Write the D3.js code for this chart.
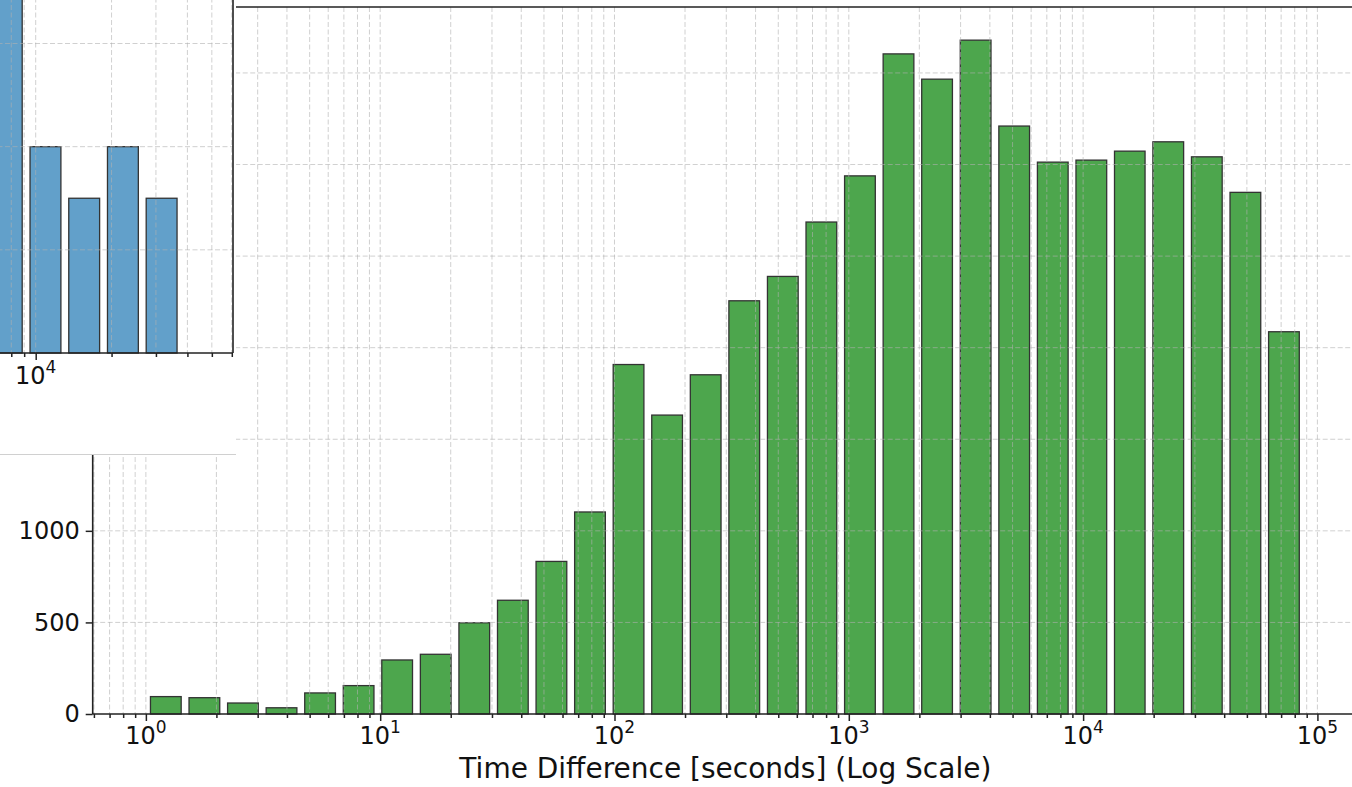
<!DOCTYPE html>
<html>
<head>
<meta charset="utf-8">
<script src="https://cdn.jsdelivr.net/npm/d3@7"></script>
<style>
  html, body { margin: 0; padding: 0; background: #fff; }
  svg { display: block; font-family: "DejaVu Sans", sans-serif; }
</style>
</head>
<body>
<svg id="chart" width="1352" height="787"></svg>
<script>
// ---------- main histogram data (log-spaced bins, seconds) ----------
const binEdges = [1, 1.4608, 2.1339, 3.1173, 4.5538, 6.6522, 9.7118, 14.187, 20.725, 30.275,
  44.226, 64.606, 94.38, 137.86, 201.39, 294.19, 429.76, 627.8, 917.1, 1339.7,
  1957.0, 2858.8, 4176.1, 6100.5, 8911.7, 13018, 18976, 27726, 40497, 59160, 86400];
const counts = [95, 89, 60, 34, 115, 155, 295, 326, 498, 621,
  833, 1103, 1908, 1632, 1852, 2256, 2389, 2686, 2938, 3604,
  3466, 3679, 3210, 3013, 3024, 3073, 3124, 3042, 2848, 2087];
const xMajorTicks = [1, 10, 100, 1000, 10000, 100000];
const xTickExponents = ["0", "1", "2", "3", "4", "5"];
const yTicks = [0, 500, 1000, 1500, 2000, 2500, 3000, 3500];
const yTickLabels = ["0", "500", "1000"];   // the others are hidden under the pasted fragment
const xLabel = "Time Difference [seconds] (Log Scale)";

// ---------- pasted inset fragment (blue histogram) ----------
const insetEdges = [6396, 9110, 12976, 18483, 26327, 37500];
const insetCounts = [9, 4, 3, 4, 3];
const insetMajorTicks = [10000];
const insetTickExponents = ["4"];
const insetYGrid = [2, 4, 6];

const svg = d3.select("#chart");
const gridColor = "#b0b0b0";

// ---------- main scales ----------
const x = d3.scaleLog().domain([0.593, 149000]).range([92.7, 1358]);
const y = d3.scaleLinear().domain([0, 3860]).range([714, 7]);

function minorTicks(lo, hi) {
  const out = [];
  for (let e = Math.floor(Math.log10(lo)); e <= Math.ceil(Math.log10(hi)); e++) {
    for (let k = 2; k <= 9; k++) {
      const v = k * Math.pow(10, e);
      if (v >= lo && v <= hi) out.push(v);
    }
  }
  return out;
}
const [xd0, xd1] = x.domain();
const xMinor = minorTicks(xd0, xd1);

const main = svg.append("g");

// bars (matplotlib rwidth 0.8 on linear bin widths)
const bins = counts.map((c, i) => ({ a: binEdges[i], b: binEdges[i + 1], c }));
main.selectAll("rect.bar").data(bins).join("rect")
  .attr("class", "bar")
  .attr("x", d => x(d.a + 0.1 * (d.b - d.a)))
  .attr("width", d => x(d.a + 0.9 * (d.b - d.a)) - x(d.a + 0.1 * (d.b - d.a)))
  .attr("y", d => y(d.c))
  .attr("height", d => y(0) - y(d.c))
  .attr("fill", "#4da64d")
  .attr("stroke", "#333")
  .attr("stroke-width", 1.3);

// grid on top of bars
const grid = main.append("g")
  .attr("stroke", gridColor).attr("stroke-opacity", 0.6)
  .attr("stroke-width", 1).attr("stroke-dasharray", "5,2.5");
grid.selectAll("line.v").data(xMajorTicks.concat(xMinor)).join("line")
  .attr("class", "v")
  .attr("x1", d => x(d)).attr("x2", d => x(d))
  .attr("y1", y.range()[1]).attr("y2", y.range()[0]);
grid.selectAll("line.h").data(yTicks.slice(1)).join("line")
  .attr("class", "h")
  .attr("x1", x.range()[0]).attr("x2", x.range()[1])
  .attr("y1", d => y(d)).attr("y2", d => y(d));

// axes
const xAxisMajor = main.append("g").attr("transform", `translate(0,${y(0)})`)
  .call(d3.axisBottom(x).tickValues(xMajorTicks).tickSize(7).tickFormat(""));
const xAxisMinor = main.append("g").attr("transform", `translate(0,${y(0)})`)
  .call(d3.axisBottom(x).tickValues(xMinor).tickSize(4).tickFormat(""));
const yAxis = main.append("g").attr("transform", `translate(${x.range()[0]},0)`)
  .call(d3.axisLeft(y).tickValues(yTicks).tickSize(7).tickPadding(6)
    .tickFormat((d, i) => yTickLabels[i] || ""));
[xAxisMajor, xAxisMinor, yAxis].forEach(g => {
  g.select(".domain").remove();
  g.selectAll(".tick line").attr("stroke", "#222").attr("stroke-width", 1.5);
});
yAxis.selectAll(".tick text").filter(function () { return this.textContent === ""; }).remove();
yAxis.selectAll(".tick text").attr("font-size", 24).attr("fill", "#111")
  .attr("font-family", "DejaVu Sans");

// x tick labels 10^n
const xl = main.append("g");
xMajorTicks.forEach((v, i) => {
  const t = xl.append("text")
    .attr("x", x(v)).attr("y", 744)
    .attr("text-anchor", "middle").attr("fill", "#111");
  t.append("tspan").attr("font-size", 24).text("10");
  t.append("tspan").attr("font-size", 17).attr("dy", -11).text(xTickExponents[i]);
});

// spines
const sp = main.append("g").attr("stroke", "#222").attr("stroke-width", 1.6).attr("fill", "none");
sp.append("line").attr("x1", x.range()[0]).attr("x2", x.range()[0]).attr("y1", y.range()[1]).attr("y2", y.range()[0]);
sp.append("line").attr("x1", x.range()[0]).attr("x2", x.range()[1]).attr("y1", y.range()[0]).attr("y2", y.range()[0]);
sp.append("line").attr("x1", x.range()[0]).attr("x2", x.range()[1]).attr("y1", y.range()[1]).attr("y2", y.range()[1]);

// x label
main.append("text")
  .attr("x", (x.range()[0] + x.range()[1]) / 2).attr("y", 778)
  .attr("text-anchor", "middle").attr("font-size", 28).attr("fill", "#111")
  .text(xLabel);

// ---------- inset fragment overlay ----------
const defs = svg.append("defs");
defs.append("clipPath").attr("id", "insetClip")
  .append("rect").attr("x", 0).attr("y", 0).attr("width", 236).attr("height", 454);

const inset = svg.append("g").attr("clip-path", "url(#insetClip)");
inset.append("rect").attr("x", 0).attr("y", 0).attr("width", 236).attr("height", 454).attr("fill", "#fff");

const xi = d3.scaleLog().domain([10000, 100000]).range([35.7, 287.7]);
const yi = d3.scaleLinear().domain([0, 6]).range([353, 43.5]);
const insetRight = 233;
const insetXMinor = minorTicks(xi.invert(-20), xi.invert(insetRight));

const ibins = insetCounts.map((c, i) => ({ a: insetEdges[i], b: insetEdges[i + 1], c }));
inset.selectAll("rect.ibar").data(ibins).join("rect")
  .attr("class", "ibar")
  .attr("x", d => xi(d.a + 0.1 * (d.b - d.a)))
  .attr("width", d => xi(d.a + 0.9 * (d.b - d.a)) - xi(d.a + 0.1 * (d.b - d.a)))
  .attr("y", d => yi(d.c))
  .attr("height", d => yi(0) - yi(d.c))
  .attr("fill", "#62a0ca")
  .attr("stroke", "#333")
  .attr("stroke-width", 1.3);

const igrid = inset.append("g")
  .attr("stroke", gridColor).attr("stroke-opacity", 0.6)
  .attr("stroke-width", 1).attr("stroke-dasharray", "5,2.5");
igrid.selectAll("line.v").data(insetMajorTicks.concat(insetXMinor)).join("line")
  .attr("class", "v")
  .attr("x1", d => xi(d)).attr("x2", d => xi(d))
  .attr("y1", -10).attr("y2", yi(0));
igrid.selectAll("line.h").data(insetYGrid).join("line")
  .attr("class", "h")
  .attr("x1", -10).attr("x2", insetRight)
  .attr("y1", d => yi(d)).attr("y2", d => yi(d));

const ixMaj = inset.append("g").attr("transform", `translate(0,${yi(0)})`)
  .call(d3.axisBottom(xi).tickValues(insetMajorTicks).tickSize(7).tickFormat(""));
const ixMin = inset.append("g").attr("transform", `translate(0,${yi(0)})`)
  .call(d3.axisBottom(xi).tickValues(insetXMinor).tickSize(4).tickFormat(""));
[ixMaj, ixMin].forEach(g => {
  g.select(".domain").remove();
  g.selectAll(".tick line").attr("stroke", "#222").attr("stroke-width", 1.5);
});
insetMajorTicks.forEach((v, i) => {
  const t = inset.append("text")
    .attr("x", xi(v)).attr("y", 384)
    .attr("text-anchor", "middle").attr("fill", "#111");
  t.append("tspan").attr("font-size", 24).text("10");
  t.append("tspan").attr("font-size", 17).attr("dy", -11).text(insetTickExponents[i]);
});
const isp = inset.append("g").attr("stroke", "#222").attr("stroke-width", 1.6);
isp.append("line").attr("x1", insetRight).attr("x2", insetRight).attr("y1", -10).attr("y2", yi(0));
isp.append("line").attr("x1", -10).attr("x2", insetRight).attr("y1", yi(0)).attr("y2", yi(0));

// faint border at the bottom of the pasted fragment
svg.append("line").attr("x1", 0).attr("x2", 236).attr("y1", 454.5).attr("y2", 454.5)
  .attr("stroke", "#d0d0d0").attr("stroke-width", 1);
</script>
</body>
</html>
